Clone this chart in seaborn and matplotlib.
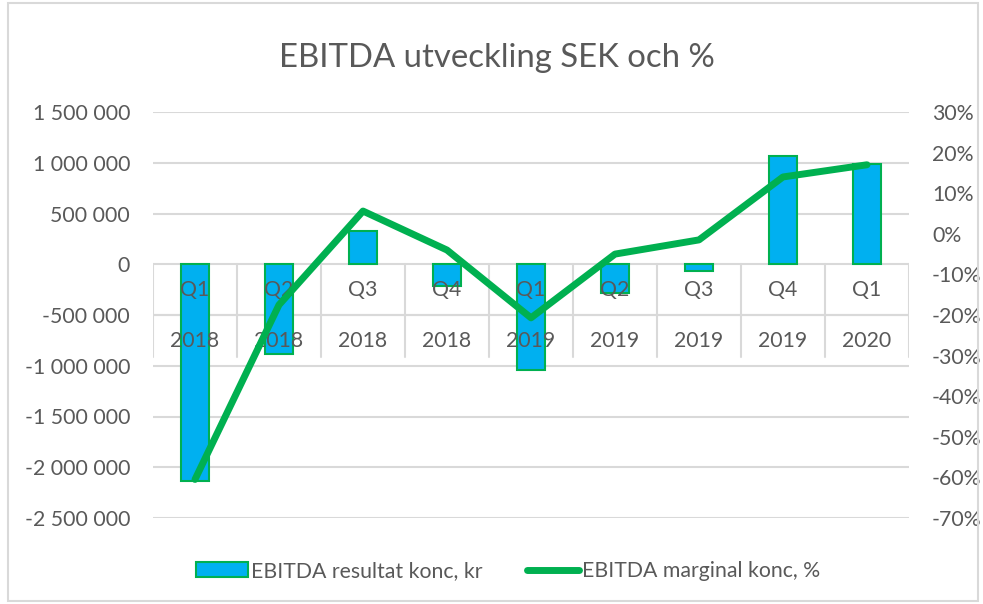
import numpy as np
import pandas as pd
import matplotlib
matplotlib.use("Agg")
import matplotlib.pyplot as plt
import matplotlib.ticker as mticker
from matplotlib.patches import Patch, Rectangle
from matplotlib.lines import Line2D
import seaborn as sns

quarters = ["Q1", "Q2", "Q3", "Q4", "Q1", "Q2", "Q3", "Q4", "Q1"]
years = ["2018", "2018", "2018", "2018", "2019", "2019", "2019", "2019", "2020"]
ebitda_kr = [-2140000, -880000, 325000, -215000, -1040000, -285000, -65000, 1065000, 985000]
ebitda_margin = [-0.605, -0.175, 0.056, -0.04, -0.207, -0.05, -0.015, 0.14, 0.17]

bar_label = "EBITDA resultat konc, kr"
line_label = "EBITDA marginal konc, %"
title = "EBITDA utveckling SEK och %"

df = pd.DataFrame({
    "period": [f"{q} {y}" for q, y in zip(quarters, years)],
    "kr": ebitda_kr,
    "margin": ebitda_margin,
})
df["pos"] = np.arange(len(df))

sns.set_style("white")
plt.rcParams["font.family"] = ["Lato", "DejaVu Sans"]
plt.rcParams["axes.unicode_minus"] = False

text_col = "#595959"
grid_col = "#D9D9D9"
blue = "#00B0F0"
green = "#00B050"
fs = 15.3

fig = plt.figure(figsize=(9.83, 6.04), dpi=100)
ax = fig.add_axes([153 / 983, 1 - 518 / 604, (909 - 153) / 983, (518 - 112) / 604])

sns.barplot(data=df, x="period", y="kr", ax=ax, color=blue, width=0.33,
            edgecolor=green, linewidth=1.5, saturation=1, zorder=3)
ax.set_ylim(-2500000, 1500000)
ax.set_yticks(np.arange(-2500000, 1500001, 500000))
ax.yaxis.set_major_formatter(mticker.FuncFormatter(lambda v, p: f"{v:,.0f}".replace(",", " ")))
ax.set_xlim(-0.5, len(df) - 0.5)
ax.grid(axis="y", color=grid_col, linewidth=1.5, zorder=0)
ax.set_axisbelow(True)
ax.set_xticks([])
ax.set_xlabel("")
ax.set_ylabel("")
ax.tick_params(axis="y", length=0, pad=16.5, labelsize=fs, labelcolor=text_col)
for s in ax.spines.values():
    s.set_visible(False)

# two-level category table under the zero line
table_bottom = -915000
for edge in np.arange(len(df) + 1) - 0.5:
    ax.plot([edge, edge], [0, table_bottom], color=grid_col, linewidth=1.5, zorder=1)
ax.axhline(-500000, color=grid_col, linewidth=1.5, zorder=1)
for i, (q, y) in enumerate(zip(quarters, years)):
    ax.text(i, -250000, q, ha="center", va="center", fontsize=fs, color=text_col, zorder=4)
    ax.text(i, -755000, y, ha="center", va="center", fontsize=fs, color=text_col, zorder=4)

ax2 = ax.twinx()
sns.lineplot(data=df, x="pos", y="margin", ax=ax2, color=green, linewidth=5)
ax2.set_ylim(-0.7, 0.3)
ax2.set_yticks(np.arange(-0.7, 0.31, 0.1))
ax2.yaxis.set_major_formatter(mticker.FuncFormatter(lambda v, p: f"{round(v * 100):.0f}%"))
ax2.set_xlim(-0.5, len(df) - 0.5)
ax2.set_ylabel("")
ax2.set_xlabel("")
ax2.tick_params(axis="y", length=0, pad=16.5, labelsize=fs, labelcolor=text_col)
for s in ax2.spines.values():
    s.set_visible(False)

fig.text(0.506, 1 - 58 / 604, title, ha="center", va="center", fontsize=23.7, color=text_col)

handles = [Patch(facecolor=blue, edgecolor=green, linewidth=1.5),
           Line2D([], [], color=green, linewidth=5, solid_capstyle="round")]
fig.legend(handles, [bar_label, line_label], loc="center", bbox_to_anchor=(508 / 983, 1 - 571 / 604),
           ncol=2, frameon=False, fontsize=fs, labelcolor=text_col,
           handlelength=2.45, handletextpad=0.15, columnspacing=2.1)

fig.patches.append(Rectangle((8 / 983, 3 / 604), 970 / 983, 598 / 604, transform=fig.transFigure,
                             fill=False, edgecolor=grid_col, linewidth=1.5))

fig.savefig("out.png", dpi=100)
